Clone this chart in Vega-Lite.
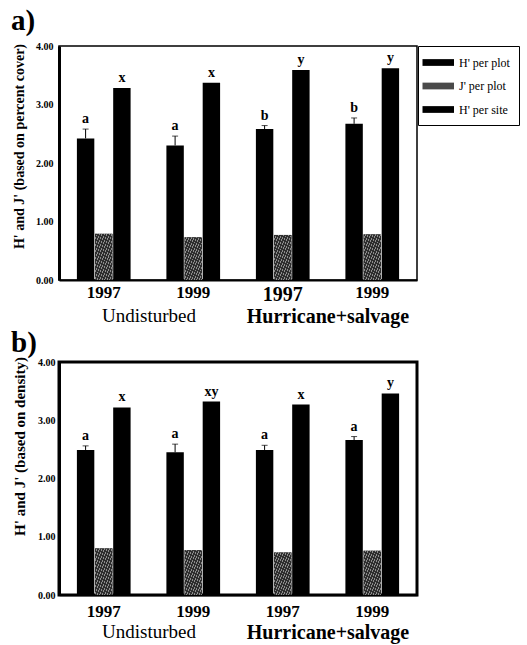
{
  "$schema": "https://vega.github.io/schema/vega-lite/v6.json",
  "padding": {"left": 9, "top": 6, "right": 5, "bottom": 0},
  "background": "white",
  "datasets": {
    "bars": [
      {"panel": "a", "period": "U-1997", "series": "H' per plot", "value": 2.42, "err": 0.16, "letter": "a"},
      {"panel": "a", "period": "U-1997", "series": "J' per plot", "value": 0.79, "err": 0, "letter": ""},
      {"panel": "a", "period": "U-1997", "series": "H' per site", "value": 3.28, "err": 0, "letter": "x"},
      {"panel": "a", "period": "U-1999", "series": "H' per plot", "value": 2.30, "err": 0.16, "letter": "a"},
      {"panel": "a", "period": "U-1999", "series": "J' per plot", "value": 0.73, "err": 0, "letter": ""},
      {"panel": "a", "period": "U-1999", "series": "H' per site", "value": 3.37, "err": 0, "letter": "x"},
      {"panel": "a", "period": "H-1997", "series": "H' per plot", "value": 2.58, "err": 0.06, "letter": "b"},
      {"panel": "a", "period": "H-1997", "series": "J' per plot", "value": 0.77, "err": 0, "letter": ""},
      {"panel": "a", "period": "H-1997", "series": "H' per site", "value": 3.59, "err": 0, "letter": "y"},
      {"panel": "a", "period": "H-1999", "series": "H' per plot", "value": 2.67, "err": 0.10, "letter": "b"},
      {"panel": "a", "period": "H-1999", "series": "J' per plot", "value": 0.78, "err": 0, "letter": ""},
      {"panel": "a", "period": "H-1999", "series": "H' per site", "value": 3.62, "err": 0, "letter": "y"},
      {"panel": "b", "period": "U-1997", "series": "H' per plot", "value": 2.49, "err": 0.07, "letter": "a"},
      {"panel": "b", "period": "U-1997", "series": "J' per plot", "value": 0.80, "err": 0, "letter": ""},
      {"panel": "b", "period": "U-1997", "series": "H' per site", "value": 3.22, "err": 0, "letter": "x"},
      {"panel": "b", "period": "U-1999", "series": "H' per plot", "value": 2.45, "err": 0.14, "letter": "a"},
      {"panel": "b", "period": "U-1999", "series": "J' per plot", "value": 0.77, "err": 0, "letter": ""},
      {"panel": "b", "period": "U-1999", "series": "H' per site", "value": 3.32, "err": 0, "letter": "xy"},
      {"panel": "b", "period": "H-1997", "series": "H' per plot", "value": 2.49, "err": 0.08, "letter": "a"},
      {"panel": "b", "period": "H-1997", "series": "J' per plot", "value": 0.73, "err": 0, "letter": ""},
      {"panel": "b", "period": "H-1997", "series": "H' per site", "value": 3.27, "err": 0, "letter": "x"},
      {"panel": "b", "period": "H-1999", "series": "H' per plot", "value": 2.66, "err": 0.06, "letter": "a"},
      {"panel": "b", "period": "H-1999", "series": "J' per plot", "value": 0.76, "err": 0, "letter": ""},
      {"panel": "b", "period": "H-1999", "series": "H' per site", "value": 3.46, "err": 0, "letter": "y"}
    ],
    "groups": [
      {"grp": "Undisturbed"},
      {"grp": "Hurricane+salvage"}
    ]
  },
  "vconcat": [
    {
      "width": 358,
      "height": 234,
      "title": {"text": "a)", "anchor": "start", "frame": "group", "dx": -48, "offset": 5, "fontSize": 29, "font": "Liberation Serif", "fontWeight": "bold"},
      "view": {"stroke": "black", "strokeWidth": 1.5},
      "layer": [
        {
          "data": {"name": "bars"},
          "transform": [{"filter": "datum.panel == 'a'"}, {"calculate": "datum.value + datum.err", "as": "top"}],
          "encoding": {
            "x": {"field": "period", "type": "nominal", "sort": null,
              "scale": {"domain": ["U-1997", "U-1999", "H-1997", "H-1999"], "paddingInner": 0.4, "paddingOuter": 0.2},
              "axis": {"orient": "bottom", "title": null, "labelExpr": "slice(datum.label, 2)", "labelAngle": 0, "labelFont": "Liberation Serif", "labelFontWeight": "bold",
                "labelFontSize": {"condition": {"test": "datum.value == 'H-1997'", "value": 20}, "value": 17},
                "labelColor": "black", "labelPadding": 4, "ticks": false, "domainColor": "black", "domainWidth": 2}},
            "xOffset": {"field": "series", "type": "nominal", "sort": null, "scale": {"domain": ["H' per plot", "J' per plot", "H' per site"], "paddingInner": 0.04}}
          },
          "layer": [
            {
              "mark": {"type": "bar"},
              "encoding": {
                "y": {"field": "value", "type": "quantitative", "scale": {"domain": [0, 4], "nice": false},
                  "axis": {"title": "H' and J' (based on percent cover)", "titleFont": "Liberation Serif", "titleFontWeight": "bold", "titleFontSize": 14, "titleColor": "black", "titlePadding": 9, "titleY": 100,
                    "values": [0, 1, 2, 3, 4], "format": ".2f", "labelFont": "Liberation Serif", "labelFontWeight": "bold", "labelFontSize": 10, "labelColor": "black", "labelPadding": 6,
                    "ticks": false, "grid": false, "domainColor": "black", "domainWidth": 3}},
                "color": {"field": "series", "type": "nominal", "sort": null,
                  "scale": {"domain": ["H' per plot", "J' per plot", "H' per site"], "range": ["#000000", "#4a4a4a", "#000000"]},
                  "legend": {"title": null, "orient": "right", "offset": 1, "strokeColor": "black", "padding": 9,
                    "symbolType": "M-1.6,-0.45H2.6V0.45H-1.6Z", "symbolSize": 225, "symbolStrokeWidth": 0, "symbolOpacity": 1,
                    "labelFont": "Liberation Serif", "labelFontSize": 12, "labelColor": "black", "rowPadding": 9.5, "labelOffset": 17}}
              }
            },
            {
              "mark": {"type": "bar", "fill": {"gradient": "linear", "x1": 0, "y1": 0, "x2": 1, "y2": 1, "stops": [
                {"offset": 0, "color": "#2e2e2e"}, {"offset": 0.05, "color": "#2e2e2e"}, {"offset": 0.05, "color": "#8c8c8c"}, {"offset": 0.071, "color": "#8c8c8c"},
                {"offset": 0.071, "color": "#2e2e2e"}, {"offset": 0.121, "color": "#2e2e2e"}, {"offset": 0.121, "color": "#8c8c8c"}, {"offset": 0.143, "color": "#8c8c8c"},
                {"offset": 0.143, "color": "#2e2e2e"}, {"offset": 0.193, "color": "#2e2e2e"}, {"offset": 0.193, "color": "#8c8c8c"}, {"offset": 0.214, "color": "#8c8c8c"},
                {"offset": 0.214, "color": "#2e2e2e"}, {"offset": 0.264, "color": "#2e2e2e"}, {"offset": 0.264, "color": "#8c8c8c"}, {"offset": 0.286, "color": "#8c8c8c"},
                {"offset": 0.286, "color": "#2e2e2e"}, {"offset": 0.336, "color": "#2e2e2e"}, {"offset": 0.336, "color": "#8c8c8c"}, {"offset": 0.357, "color": "#8c8c8c"},
                {"offset": 0.357, "color": "#2e2e2e"}, {"offset": 0.407, "color": "#2e2e2e"}, {"offset": 0.407, "color": "#8c8c8c"}, {"offset": 0.429, "color": "#8c8c8c"},
                {"offset": 0.429, "color": "#2e2e2e"}, {"offset": 0.479, "color": "#2e2e2e"}, {"offset": 0.479, "color": "#8c8c8c"}, {"offset": 0.5, "color": "#8c8c8c"},
                {"offset": 0.5, "color": "#2e2e2e"}, {"offset": 0.55, "color": "#2e2e2e"}, {"offset": 0.55, "color": "#8c8c8c"}, {"offset": 0.571, "color": "#8c8c8c"},
                {"offset": 0.571, "color": "#2e2e2e"}, {"offset": 0.621, "color": "#2e2e2e"}, {"offset": 0.621, "color": "#8c8c8c"}, {"offset": 0.643, "color": "#8c8c8c"},
                {"offset": 0.643, "color": "#2e2e2e"}, {"offset": 0.693, "color": "#2e2e2e"}, {"offset": 0.693, "color": "#8c8c8c"}, {"offset": 0.714, "color": "#8c8c8c"},
                {"offset": 0.714, "color": "#2e2e2e"}, {"offset": 0.764, "color": "#2e2e2e"}, {"offset": 0.764, "color": "#8c8c8c"}, {"offset": 0.786, "color": "#8c8c8c"},
                {"offset": 0.786, "color": "#2e2e2e"}, {"offset": 0.836, "color": "#2e2e2e"}, {"offset": 0.836, "color": "#8c8c8c"}, {"offset": 0.857, "color": "#8c8c8c"},
                {"offset": 0.857, "color": "#2e2e2e"}, {"offset": 0.907, "color": "#2e2e2e"}, {"offset": 0.907, "color": "#8c8c8c"}, {"offset": 0.929, "color": "#8c8c8c"},
                {"offset": 0.929, "color": "#2e2e2e"}, {"offset": 0.979, "color": "#2e2e2e"}, {"offset": 0.979, "color": "#8c8c8c"}, {"offset": 1, "color": "#8c8c8c"}]}},
              "transform": [{"filter": "datum.series == \"J' per plot\""}],
              "encoding": {"y": {"field": "value", "type": "quantitative"}}
            },
            {
              "mark": {"type": "rule", "color": "black", "strokeWidth": 1},
              "transform": [{"filter": "datum.err > 0"}],
              "encoding": {"y": {"field": "value", "type": "quantitative"}, "y2": {"field": "top"}}
            },
            {
              "mark": {"type": "tick", "color": "black", "size": 6, "thickness": 1},
              "transform": [{"filter": "datum.err > 0"}],
              "encoding": {"y": {"field": "top", "type": "quantitative"}}
            },
            {
              "mark": {"type": "text", "baseline": "bottom", "dy": -3, "font": "Liberation Serif", "fontWeight": "bold", "fontSize": 14, "color": "black"},
              "encoding": {"y": {"field": "top", "type": "quantitative"}, "text": {"field": "letter"}}
            }
          ]
        },
        {
          "data": {"name": "groups"},
          "mark": {"type": "text", "opacity": 0},
          "encoding": {
            "x": {"field": "grp", "type": "nominal", "sort": null,
              "scale": {"domain": ["Undisturbed", "Hurricane+salvage"], "paddingInner": 0, "paddingOuter": 0},
              "axis": {"orient": "bottom", "title": null, "domain": false, "ticks": false, "labelAngle": 0, "labelPadding": 26, "labelFont": "Liberation Serif", "labelColor": "black",
                "labelFontWeight": {"condition": {"test": "datum.value == 'Hurricane+salvage'", "value": "bold"}, "value": "normal"},
                "labelFontSize": {"condition": {"test": "datum.value == 'Hurricane+salvage'", "value": 20}, "value": 19}}},
            "text": {"value": ""}
          }
        }
      ],
      "resolve": {"scale": {"x": "independent"}, "axis": {"x": "independent"}}
    },
    {
      "width": 358,
      "height": 233,
      "title": {"text": "b)", "anchor": "start", "frame": "group", "dx": -48, "offset": -1, "fontSize": 29, "font": "Liberation Serif", "fontWeight": "bold"},
      "view": {"stroke": "black", "strokeWidth": 3},
      "layer": [
        {
          "data": {"name": "bars"},
          "transform": [{"filter": "datum.panel == 'b'"}, {"calculate": "datum.value + datum.err", "as": "top"}],
          "encoding": {
            "x": {"field": "period", "type": "nominal", "sort": null,
              "scale": {"domain": ["U-1997", "U-1999", "H-1997", "H-1999"], "paddingInner": 0.4, "paddingOuter": 0.2},
              "axis": {"orient": "bottom", "title": null, "labelExpr": "slice(datum.label, 2)", "labelAngle": 0, "labelFont": "Liberation Serif", "labelFontWeight": "bold",
                "labelFontSize": 17, "labelColor": "black", "labelPadding": 8, "ticks": false, "domainColor": "black", "domainWidth": 1.5}},
            "xOffset": {"field": "series", "type": "nominal", "sort": null, "scale": {"domain": ["H' per plot", "J' per plot", "H' per site"], "paddingInner": 0.04}}
          },
          "layer": [
            {
              "mark": {"type": "bar"},
              "encoding": {
                "y": {"field": "value", "type": "quantitative", "scale": {"domain": [0, 4], "nice": false},
                  "axis": {"title": "H' and J' (based on density)", "titleFont": "Liberation Serif", "titleFontWeight": "bold", "titleFontSize": 15, "titleColor": "black", "titlePadding": 10, "titleY": 84,
                    "values": [0, 1, 2, 3, 4], "format": ".2f", "labelFont": "Liberation Serif", "labelFontWeight": "bold", "labelFontSize": 10, "labelColor": "black", "labelPadding": 4,
                    "ticks": false, "grid": false, "domainColor": "black", "domainWidth": 3}},
                "color": {"field": "series", "type": "nominal", "sort": null,
                  "scale": {"domain": ["H' per plot", "J' per plot", "H' per site"], "range": ["#000000", "#4a4a4a", "#000000"]},
                  "legend": null}
              }
            },
            {
              "mark": {"type": "bar", "fill": {"gradient": "linear", "x1": 0, "y1": 0, "x2": 1, "y2": 1, "stops": [
                {"offset": 0, "color": "#2e2e2e"}, {"offset": 0.05, "color": "#2e2e2e"}, {"offset": 0.05, "color": "#8c8c8c"}, {"offset": 0.071, "color": "#8c8c8c"},
                {"offset": 0.071, "color": "#2e2e2e"}, {"offset": 0.121, "color": "#2e2e2e"}, {"offset": 0.121, "color": "#8c8c8c"}, {"offset": 0.143, "color": "#8c8c8c"},
                {"offset": 0.143, "color": "#2e2e2e"}, {"offset": 0.193, "color": "#2e2e2e"}, {"offset": 0.193, "color": "#8c8c8c"}, {"offset": 0.214, "color": "#8c8c8c"},
                {"offset": 0.214, "color": "#2e2e2e"}, {"offset": 0.264, "color": "#2e2e2e"}, {"offset": 0.264, "color": "#8c8c8c"}, {"offset": 0.286, "color": "#8c8c8c"},
                {"offset": 0.286, "color": "#2e2e2e"}, {"offset": 0.336, "color": "#2e2e2e"}, {"offset": 0.336, "color": "#8c8c8c"}, {"offset": 0.357, "color": "#8c8c8c"},
                {"offset": 0.357, "color": "#2e2e2e"}, {"offset": 0.407, "color": "#2e2e2e"}, {"offset": 0.407, "color": "#8c8c8c"}, {"offset": 0.429, "color": "#8c8c8c"},
                {"offset": 0.429, "color": "#2e2e2e"}, {"offset": 0.479, "color": "#2e2e2e"}, {"offset": 0.479, "color": "#8c8c8c"}, {"offset": 0.5, "color": "#8c8c8c"},
                {"offset": 0.5, "color": "#2e2e2e"}, {"offset": 0.55, "color": "#2e2e2e"}, {"offset": 0.55, "color": "#8c8c8c"}, {"offset": 0.571, "color": "#8c8c8c"},
                {"offset": 0.571, "color": "#2e2e2e"}, {"offset": 0.621, "color": "#2e2e2e"}, {"offset": 0.621, "color": "#8c8c8c"}, {"offset": 0.643, "color": "#8c8c8c"},
                {"offset": 0.643, "color": "#2e2e2e"}, {"offset": 0.693, "color": "#2e2e2e"}, {"offset": 0.693, "color": "#8c8c8c"}, {"offset": 0.714, "color": "#8c8c8c"},
                {"offset": 0.714, "color": "#2e2e2e"}, {"offset": 0.764, "color": "#2e2e2e"}, {"offset": 0.764, "color": "#8c8c8c"}, {"offset": 0.786, "color": "#8c8c8c"},
                {"offset": 0.786, "color": "#2e2e2e"}, {"offset": 0.836, "color": "#2e2e2e"}, {"offset": 0.836, "color": "#8c8c8c"}, {"offset": 0.857, "color": "#8c8c8c"},
                {"offset": 0.857, "color": "#2e2e2e"}, {"offset": 0.907, "color": "#2e2e2e"}, {"offset": 0.907, "color": "#8c8c8c"}, {"offset": 0.929, "color": "#8c8c8c"},
                {"offset": 0.929, "color": "#2e2e2e"}, {"offset": 0.979, "color": "#2e2e2e"}, {"offset": 0.979, "color": "#8c8c8c"}, {"offset": 1, "color": "#8c8c8c"}]}},
              "transform": [{"filter": "datum.series == \"J' per plot\""}],
              "encoding": {"y": {"field": "value", "type": "quantitative"}}
            },
            {
              "mark": {"type": "rule", "color": "black", "strokeWidth": 1},
              "transform": [{"filter": "datum.err > 0"}],
              "encoding": {"y": {"field": "value", "type": "quantitative"}, "y2": {"field": "top"}}
            },
            {
              "mark": {"type": "tick", "color": "black", "size": 6, "thickness": 1},
              "transform": [{"filter": "datum.err > 0"}],
              "encoding": {"y": {"field": "top", "type": "quantitative"}}
            },
            {
              "mark": {"type": "text", "baseline": "bottom", "dy": -3, "font": "Liberation Serif", "fontWeight": "bold", "fontSize": 14, "color": "black"},
              "encoding": {"y": {"field": "top", "type": "quantitative"}, "text": {"field": "letter"}}
            }
          ]
        },
        {
          "data": {"name": "groups"},
          "mark": {"type": "text", "opacity": 0},
          "encoding": {
            "x": {"field": "grp", "type": "nominal", "sort": null,
              "scale": {"domain": ["Undisturbed", "Hurricane+salvage"], "paddingInner": 0, "paddingOuter": 0},
              "axis": {"orient": "bottom", "title": null, "domain": false, "ticks": false, "labelAngle": 0, "labelPadding": 27, "labelFont": "Liberation Serif", "labelColor": "black",
                "labelFontWeight": {"condition": {"test": "datum.value == 'Hurricane+salvage'", "value": "bold"}, "value": "normal"},
                "labelFontSize": {"condition": {"test": "datum.value == 'Hurricane+salvage'", "value": 20}, "value": 19}}},
            "text": {"value": ""}
          }
        }
      ],
      "resolve": {"scale": {"x": "independent"}, "axis": {"x": "independent"}}
    }
  ],
  "spacing": 0,
  "resolve": {"legend": {"color": "independent"}}
}
